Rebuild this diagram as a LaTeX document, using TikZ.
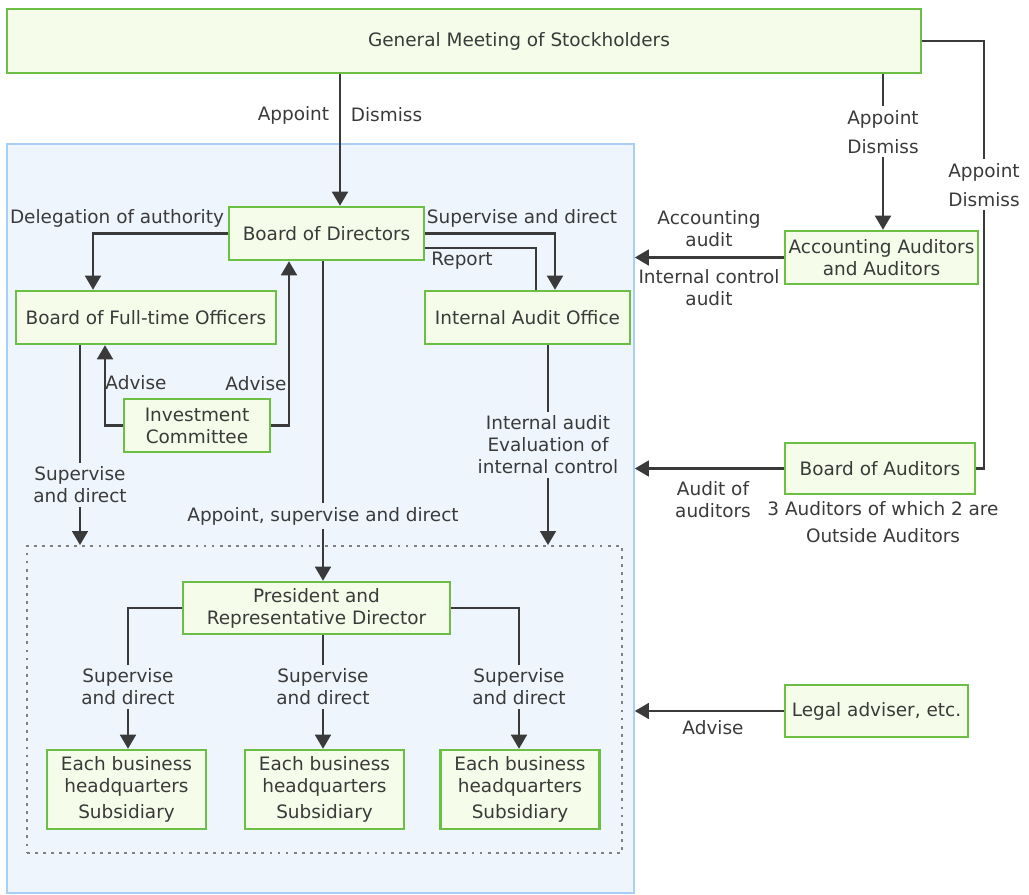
\documentclass[tikz,border=0pt]{standalone}
\usepackage{fontspec}
\setmainfont{DejaVu Sans}
\usetikzlibrary{arrows.meta, positioning, calc}
\definecolor{boxgreen}{HTML}{6CBF45}
\definecolor{boxfill}{HTML}{F5FCE9}
\definecolor{areablue}{HTML}{EEF5FC}
\definecolor{areaedge}{HTML}{A8CFF5}
\definecolor{linegray}{HTML}{3A3A3A}
\definecolor{dotgray}{HTML}{808080}

\begin{document}
        \begin{tikzpicture}[x=0.02cm, y=-0.02cm,
            every node/.style={font=\fontsize{10.5}{12.5}\selectfont, text=linegray},
            box/.style={draw=boxgreen, line width=1.4pt, fill=boxfill, inner sep=1pt, align=center},
            tag/.style={align=center, inner sep=2pt},
            link/.style={draw=linegray, line width=1.3pt},
            arrow/.style={link, -{Triangle[width=9pt,length=8pt]}}]
            \useasboundingbox (0,0) rectangle (1029,895);

            \node[draw=areaedge, fill=areablue, line width=1pt, minimum width=12.54cm, minimum height=14.98cm] (corp) at (320.5,518.5) {};
            \node[draw=dotgray, line width=1.1pt, dash pattern=on 1.6pt off 3pt, minimum width=11.9cm, minimum height=6.14cm] (ops) at (324.5,699.5) {};

            \node[box, minimum width=18.28cm, minimum height=1.28cm] (gm) at (464,41) {\hspace*{2.2cm}General Meeting of Stockholders};
            \node[box, minimum width=3.9cm, minimum height=1.06cm] (bod) at (326.5,233.5) {Board of Directors};
            \node[box, minimum width=5.2cm, minimum height=1.06cm] (fto) at (146,317.5) {Board of Full-time Officers};
            \node[box, minimum width=4.1cm, minimum height=1.06cm] (iao) at (527.5,317.5) {Internal Audit Office};
            \node[box, minimum width=3.86cm, minimum height=1.06cm] (aca) at (881.5,257.5) {Accounting Auditors\\and Auditors};
            \node[box, minimum width=2.92cm, minimum height=1.06cm] (ic) at (197,425.5) {Investment\\Committee};
            \node[box, minimum width=3.8cm, minimum height=1.02cm] (boa) at (880,468.5) {Board of Auditors};
            \node[box, minimum width=5.34cm, minimum height=1.04cm] (pres) at (316.5,608) {President and\\Representative Director};
            \foreach \n/\x in {1/126.5, 2/324.5, 3/520}
            {
                \node[box, minimum width=3.18cm, minimum height=1.58cm] (hq\n) at (\x,789.5) {Each business\\headquarters\\[2pt]Subsidiary};
            }
            \node[box, minimum width=3.66cm, minimum height=1.04cm] (legal) at (876.5,711) {Legal adviser, etc.};

            % stockholders
            \node[tag, anchor=east] (apt) at (333,115) {Appoint};
            \node[tag, anchor=west] (dsm) at (347,115) {Dismiss};
            \draw[arrow] (gm.south -| 340,0) -- (bod.north -| 340,0);

            \node[tag] (ad1) at (883,132) {Appoint\\[4pt]Dismiss};
            \draw[link] (gm.south -| ad1) -- (ad1);
            \draw[arrow] (ad1) -- (aca.north -| ad1);

            \node[tag] (ad2) at (984,185) {Appoint\\[4pt]Dismiss};
            \draw[link] (gm.east) -| (ad2);
            \draw[link] (ad2) |- (boa.east);

            % auditors
            \draw[arrow] (aca.west) -- (aca.west -| corp.east);
            \node[tag] (acc) at (709,229) {Accounting\\audit};
            \node[tag] (icl) at (709,288) {Internal control\\audit};
            \draw[arrow] (boa.west) -- (boa.west -| corp.east);
            \node[tag] (aoa) at (713,500) {Audit of\\auditors};
            \node[tag] (note) at (883,522) {3 Auditors of which 2 are\\[2.5pt]Outside Auditors};
            \draw[arrow] (legal.west) -- (legal.west -| corp.east);
            \node[tag] (adv) at (713,728) {Advise};

            % board of directors
            \node[tag] (dlg) at (117,218) {Delegation of authority};
            \draw[arrow] (bod.west) -| (fto.north -| 93,0);
            \node[tag] (sdi) at (522,218) {Supervise and direct};
            \draw[arrow] (bod.east) -| (iao.north -| 555,0);
            \node[tag] (rpt) at (462,261) {Report};
            \draw[link] (bod.east |- 0,248) -| (iao.north -| 536,0);

            \node[tag] (adv1) at (136,383) {Advise};
            \draw[arrow] (ic.west) -| (fto.south -| 105,0);
            \node[tag] (adv2) at (256,384) {Advise};
            \draw[arrow] (ic.east) -| (bod.south -| 289,0);

            %%%%%%%%%%%%%%%%%%%%%%%%%%%%%%%%%%%%%%%%%%%%%%%%%%%%%%%%%%%%%
            \node[tag] (apsd) at (323,516) {Appoint, supervise and direct};
            \draw[link] (bod.south -| apsd) -- (apsd);
            \draw[arrow] (apsd) -- (pres.north -| apsd);

            \node[tag] (fsd) at (80,485) {Supervise\\and direct};
            \draw[link] (fto.south -| fsd) -- (fsd);
            \draw[arrow] (fsd) -- (ops.north -| fsd);

            \node[tag] (iae) at (548,445) {Internal audit\\Evaluation of\\internal control};
            \draw[link] (iao.south -| iae) -- (iae);
            \draw[arrow] (iae) -- (ops.north -| iae);

            \foreach \n/\x in {1/128, 2/323, 3/519}
            {
                \node[tag] (sd\n) at (\x,687) {Supervise\\and direct};
                \draw[arrow] (sd\n) -- (hq\n.north -| sd\n);
            }
            \draw[link] (pres.west) -| (sd1);
            \draw[link] (pres.south -| sd2) -- (sd2);
            \draw[link] (pres.east) -| (sd3);

        \end{tikzpicture}
\end{document}
